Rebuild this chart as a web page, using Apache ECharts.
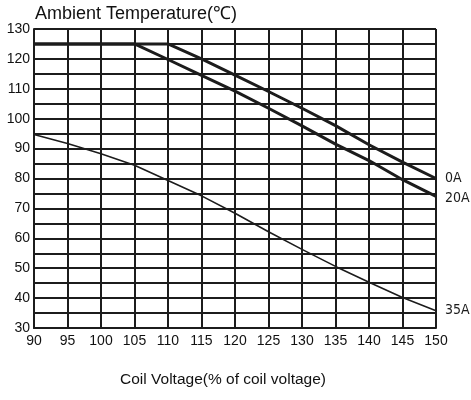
<!DOCTYPE html>
<html>
<head>
<meta charset="utf-8">
<script src="https://cdn.jsdelivr.net/npm/echarts@6/dist/echarts.min.js"></script>
<style>
  html, body { margin: 0; padding: 0; background: #fff; }
  #chart { width: 471px; height: 400px; }
</style>
</head>
<body>
<div id="chart"></div>
<script>
// coil voltage (% of rated) and ambient temperature per load current
const voltage0A = [90, 110, 115, 120, 125, 130, 135, 140, 145, 150];
const temp0A = [125, 125, 120, 114.6, 109.1, 103.5, 97.7, 91.3, 85.5, 80];
const voltage20A = [90, 105, 110, 115, 120, 125, 130, 135, 140, 145, 150];
const temp20A = [125, 125, 119.8, 114.5, 109.2, 103.5, 97.6, 91.5, 86, 79.6, 74];
const voltage35A = [90, 95, 100, 105, 110, 115, 120, 125, 130, 135, 140, 145, 150];
const temp35A = [94.7, 91.7, 88.3, 84.4, 79.3, 74.2, 68.4, 62.2, 56.3, 50.6, 45.3, 40.2, 35.8];

const zip = (xs, ys) => xs.map((x, i) => [x, ys[i]]);
const ink = "#1c1c1c";
const gridLine = { show: true, lineStyle: { color: ink, width: 2 } };

const chart = echarts.init(document.getElementById("chart"));

const lineSeries = (name, data, width, dy) => ({
  name: name,
  type: "line",
  data: data,
  symbol: "none",
  smooth: false,
  lineStyle: { color: ink, width: width },
  animation: false,
  endLabel: {
    show: true,
    formatter: "{a}",
    distance: 9,
    offset: [0, dy],
    color: ink,
    fontSize: 14,
    fontFamily: "Liberation Sans Narrow, DejaVu Sans Condensed, sans-serif",
  },
});

chart.setOption({
  backgroundColor: "#fff",
  title: {
    text: "Ambient Temperature(℃)",
    left: 35,
    top: 5,
    padding: 0,
    textStyle: {
      fontFamily: "Liberation Sans, Arial, sans-serif",
      fontSize: 18,
      fontWeight: "normal",
      color: "#111",
    },
  },
  grid: { left: 34, right: 35, top: 29, bottom: 72 },
  xAxis: {
    type: "value",
    min: 90,
    max: 150,
    interval: 5,
    axisLine: { show: true, lineStyle: { color: ink, width: 2 } },
    axisTick: { show: false },
    splitLine: gridLine,
    axisLabel: {
      margin: 6,
      color: "#111",
      fontSize: 14,
      fontFamily: "Liberation Sans, Arial, sans-serif",
    },
    name: "Coil Voltage(% of coil voltage)",
    nameLocation: "middle",
    nameGap: 44,
    nameTextStyle: {
      color: "#111",
      fontSize: 15.5,
      fontFamily: "Liberation Sans, Arial, sans-serif",
      padding: [0, 24, 0, 0],
    },
  },
  yAxis: {
    type: "value",
    min: 30,
    max: 130,
    interval: 10,
    axisLine: { show: true, lineStyle: { color: ink, width: 2 } },
    axisTick: { show: false },
    splitLine: gridLine,
    minorTick: { show: false, splitNumber: 2 },
    minorSplitLine: { show: true, lineStyle: { color: ink, width: 2 } },
    axisLabel: {
      margin: 4,
      color: "#111",
      fontSize: 14,
      fontFamily: "Liberation Sans, Arial, sans-serif",
    },
  },
  series: [
    lineSeries("0A", zip(voltage0A, temp0A), 3, 0),
    lineSeries("20A", zip(voltage20A, temp20A), 3, 2),
    lineSeries("35A", zip(voltage35A, temp35A), 1.6, 0),
  ],
});
</script>
</body>
</html>
